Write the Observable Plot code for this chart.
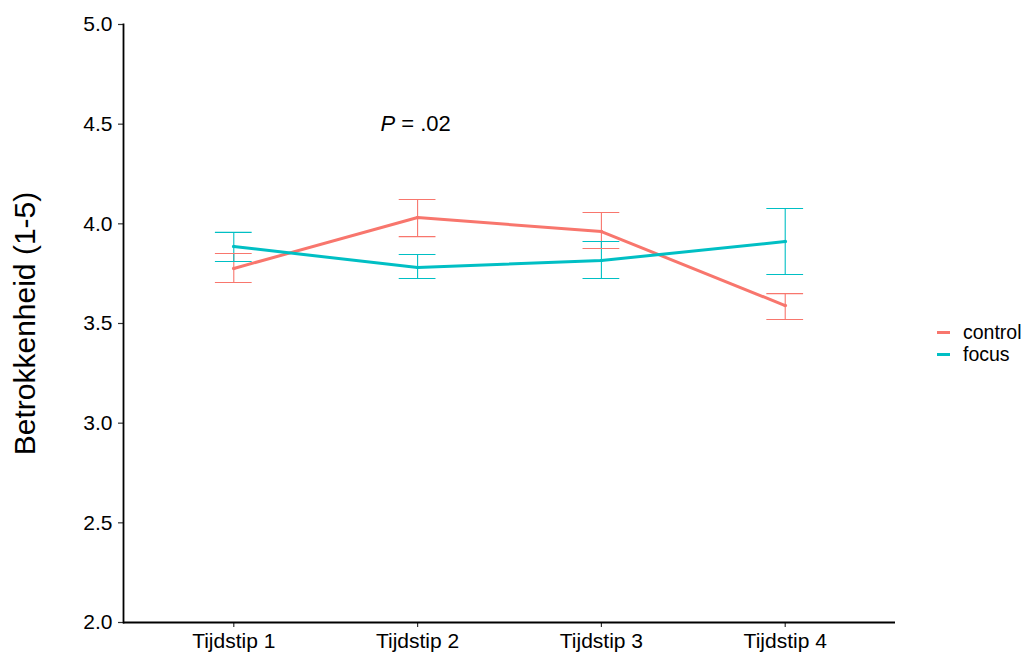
<!DOCTYPE html>
<html>
<head>
<meta charset="utf-8">
<script src="https://cdn.jsdelivr.net/npm/d3@7"></script>
<script src="https://cdn.jsdelivr.net/npm/@observablehq/plot@0.6"></script>
<style>
  html, body { margin: 0; padding: 0; background: #fff; }
  #wrap { position: relative; width: 1030px; height: 653px; font-family: "Liberation Sans", Arial, sans-serif; }
  #legend { position: absolute; left: 937px; top: 321px; font-size: 19.5px; line-height: 22px; color: #000; }
  #legend .row { display: flex; align-items: center; height: 22px; }
  #legend .key { width: 13px; height: 3px; margin-right: 13px; }
</style>
</head>
<body>
<div id="wrap"></div>
<script>
const timepoints = ["Tijdstip 1", "Tijdstip 2", "Tijdstip 3", "Tijdstip 4"];
const groups = ["control", "focus"];
const colors = ["#F8766D", "#00BFC4"];
const controlMean = [3.776, 4.032, 3.961, 3.590];
const controlLow  = [3.706, 3.936, 3.876, 3.520];
const controlHigh = [3.851, 4.122, 4.057, 3.650];
const focusMean = [3.886, 3.781, 3.816, 3.911];
const focusLow  = [3.811, 3.726, 3.726, 3.746];
const focusHigh = [3.957, 3.846, 3.911, 4.077];
const yTicks = [2.0, 2.5, 3.0, 3.5, 4.0, 4.5, 5.0];
const yTitle = "Betrokkenheid (1-5)";
const annotation = {label: "P = .02", time: 2, value: 4.5};

const rows = [];
timepoints.forEach((t, i) => {
  rows.push({group: "control", pos: i + 1, mean: controlMean[i], low: controlLow[i], high: controlHigh[i]});
  rows.push({group: "focus", pos: i + 1, mean: focusMean[i], low: focusLow[i], high: focusHigh[i]});
});
const capHalf = 0.1;

const chart = Plot.plot({
  width: 1030,
  height: 653,
  marginLeft: 123,
  marginRight: 135,
  marginTop: 24,
  marginBottom: 31,
  style: {fontFamily: '"Liberation Sans", Arial, sans-serif', color: "#000", background: "#fff"},
  x: {type: "linear", domain: [0.4, 4.6]},
  y: {domain: [2, 5]},
  color: {domain: groups, range: colors},
  marks: [
    Plot.axisY({ticks: yTicks, tickFormat: d3.format(".1f"), tickSize: 5, tickPadding: 6, fontSize: 21, label: null, stroke: "#333", strokeWidth: 1.2}),
    Plot.axisX({ticks: [1, 2, 3, 4], tickFormat: d => timepoints[d - 1], tickSize: 5, tickPadding: 6, fontSize: 21, label: null, stroke: "#333", strokeWidth: 1.2}),
    Plot.ruleX(rows, {x: "pos", y1: "low", y2: "high", stroke: "group", strokeWidth: 1.1}),
    Plot.ruleY(rows, {y: "low", x1: d => d.pos - capHalf, x2: d => d.pos + capHalf, stroke: "group", strokeWidth: 1.1}),
    Plot.ruleY(rows, {y: "high", x1: d => d.pos - capHalf, x2: d => d.pos + capHalf, stroke: "group", strokeWidth: 1.1}),
    Plot.line(rows, {x: "pos", y: "mean", stroke: "group", z: "group", strokeWidth: 3}),
    Plot.dot(rows, {x: "pos", y: "mean", fill: "group", r: 1.8}),
    Plot.ruleY([2], {stroke: "#000", strokeWidth: 1.8}),
    Plot.frame({anchor: "left", stroke: "#000", strokeWidth: 1.8}),
    Plot.text([annotation], {x: "time", y: "value", text: "label", fontSize: 22, textAnchor: "middle", lineAnchor: "middle", fill: "#000", dx: -2}),
    Plot.text([yTitle], {text: d => d, frameAnchor: "left", rotate: -90, dx: -98, fontSize: 30, textAnchor: "middle", lineAnchor: "middle", fill: "#000"})
  ]
});

chart.querySelectorAll("text").forEach(t => {
  if (t.textContent === annotation.label) {
    const rest = annotation.label.slice(1);
    t.textContent = "";
    const ns = "http://www.w3.org/2000/svg";
    const a = document.createElementNS(ns, "tspan");
    a.setAttribute("font-style", "italic");
    a.textContent = annotation.label[0];
    const b = document.createElementNS(ns, "tspan");
    b.textContent = rest.replace(/ /g, "\u00a0");
    t.appendChild(a); t.appendChild(b);
  }
});

const wrap = document.getElementById("wrap");
wrap.appendChild(chart);
const legend = document.createElement("div");
legend.id = "legend";
groups.forEach((g, i) => {
  const row = document.createElement("div");
  row.className = "row";
  const key = document.createElement("span");
  key.className = "key";
  key.style.background = colors[i];
  const lab = document.createElement("span");
  lab.textContent = g;
  row.appendChild(key); row.appendChild(lab);
  legend.appendChild(row);
});
wrap.appendChild(legend);
</script>
</body>
</html>
